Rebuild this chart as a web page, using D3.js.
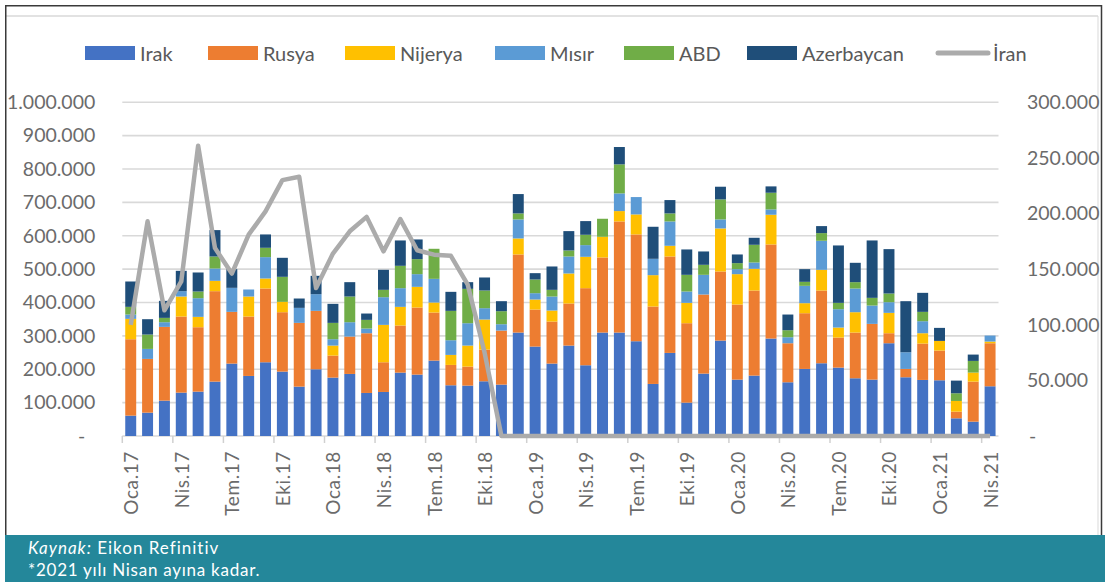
<!DOCTYPE html>
<html>
<head>
<meta charset="utf-8">
<script src="https://cdn.jsdelivr.net/npm/d3@7"></script>
<style>
  html, body { margin: 0; padding: 0; background: #fff; }
  svg { display: block; }
  text { font-family: Lato, "Open Sans", sans-serif; }
</style>
</head>
<body>
<svg id="chart" width="1105" height="582"></svg>
<script>
// ---- DATA (values in thousands of barrels) ----
const months = [
  "Oca.17","Şub.17","Mar.17","Nis.17","May.17","Haz.17","Tem.17","Ağu.17","Eyl.17","Eki.17","Kas.17","Ara.17",
  "Oca.18","Şub.18","Mar.18","Nis.18","May.18","Haz.18","Tem.18","Ağu.18","Eyl.18","Eki.18","Kas.18","Ara.18",
  "Oca.19","Şub.19","Mar.19","Nis.19","May.19","Haz.19","Tem.19","Ağu.19","Eyl.19","Eki.19","Kas.19","Ara.19",
  "Oca.20","Şub.20","Mar.20","Nis.20","May.20","Haz.20","Tem.20","Ağu.20","Eyl.20","Eki.20","Kas.20","Ara.20",
  "Oca.21","Şub.21","Mar.21","Nis.21"
];
const seriesNames = ["Irak","Rusya","Nijerya","Mısır","ABD","Azerbaycan"];
const irak = [61,70,106,130,133,163,217,180,221,193,148,200, 175,186,129,132,190,184,226,152,151,164,154,310,
              268,217,271,212,310,310,284,156,249,100,187,286, 169,181,292,161,201,218,205,173,169,278,176,168, 167,53,43,149];
const rusya = [229,161,221,228,193,271,155,178,221,178,191,175, 66,112,179,89,141,201,144,61,57,95,162,234,
               111,126,126,231,225,333,320,232,289,238,237,207, 225,255,282,117,167,218,90,137,167,30,25,109, 89,20,120,129];
const nijerya = [61,0,0,60,31,31,0,60,30,31,0,0, 30,0,0,112,56,62,30,30,63,90,0,48,
                 30,33,90,94,62,31,60,94,32,61,0,129, 91,65,89,0,30,62,30,61,0,61,0,31, 29,32,27,5];
const misir = [13,30,14,16,56,37,72,21,64,0,45,50, 19,43,14,83,56,38,71,44,67,34,19,57,
               19,42,51,35,0,53,52,49,73,34,59,27, 15,19,16,18,52,87,55,71,55,32,50,36, 0,0,0,18];
const abd = [23,43,13,0,20,36,0,0,28,75,0,0, 49,77,26,22,67,45,90,88,103,53,39,18,
             41,20,18,31,54,87,0,0,24,50,30,60, 18,53,50,21,12,23,19,19,23,26,0,28, 0,23,35,0];
const azerbaycan = [76,46,51,61,57,79,56,0,40,57,28,55, 57,43,19,60,76,59,0,57,20,39,30,58,
                    19,70,58,41,0,52,0,96,40,76,40,38, 26,21,19,47,38,21,172,58,172,133,153,57, 39,38,19,0];
const iran = [100,193,113,139,261,169,146,181,202,230,233,133, 164,184,197,166,195,167,163,162,136,75,0,0,
              0,0,0,0,0,0,0,0,0,0,0,0, 0,0,0,0,0,0,0,0,0,0,0,0, 0,0,0,0];
const leftTicks = [0,100,200,300,400,500,600,700,800,900,1000];
const rightTicks = [0,50,100,150,200,250,300];
const xTickLabels = months.filter((m, i) => i % 3 === 0);
const colors = ["#4472c4","#ed7d31","#ffc000","#5b9bd5","#70ad47","#1f4e79"];
const iranColor = "#ababab";

// ---- LAYOUT ----
const svg = d3.select("#chart");
const plot = { left: 122.3, right: 998.5, top: 102.3, bottom: 436 };

const x = d3.scaleBand().domain(months).range([plot.left, plot.right])
  .paddingInner(0.35).paddingOuter(0.175);
const y = d3.scaleLinear().domain([0, 1000]).range([plot.bottom, plot.top]);
const y2 = d3.scaleLinear().domain([0, 300]).range([plot.bottom, plot.top]);

const fmt = v => v === 0 ? "-" : d3.format(",")(v * 1000).replace(/,/g, ".");

// frame
svg.append("rect").attr("x", 5).attr("y", 535).attr("width", 1100).attr("height", 47).attr("fill", "#24879a");
svg.append("line").attr("x1", 6).attr("x2", 1098).attr("y1", 16).attr("y2", 16).attr("stroke", "#d9d9d9").attr("stroke-width", 1.5);
svg.append("line").attr("x1", 1098).attr("x2", 1098).attr("y1", 16).attr("y2", 535).attr("stroke", "#d9d9d9").attr("stroke-width", 1);
svg.append("path").attr("d", "M5.75,535V5.75H1101.5V535").attr("fill", "none").attr("stroke", "#3a3a3a").attr("stroke-width", 1.5);

// gridlines
svg.append("g").selectAll("line").data(leftTicks.filter(d => d > 0)).join("line")
  .attr("x1", plot.left).attr("x2", plot.right)
  .attr("y1", d => y(d)).attr("y2", d => y(d))
  .attr("stroke", "#d9d9d9").attr("stroke-width", 1.6);

// left axis
const gL = svg.append("g").attr("transform", `translate(${plot.left},0)`)
  .call(d3.axisLeft(y).tickValues(leftTicks).tickFormat(fmt).tickSize(0).tickPadding(27));
gL.select(".domain").remove();
gL.selectAll("text").attr("font-size", 19.5).attr("fill", "#6b6b6b")
  .attr("font-family", "Lato, 'Open Sans', sans-serif")
  .attr("dx", d => d === 0 ? -10 : 0);

// right axis
const gR = svg.append("g").attr("transform", `translate(${plot.right},0)`)
  .call(d3.axisRight(y2).tickValues(rightTicks).tickFormat(fmt).tickSize(0).tickPadding(28.5));
gR.select(".domain").remove();
gR.selectAll("text").attr("font-size", 19.5).attr("fill", "#6b6b6b")
  .attr("font-family", "Lato, 'Open Sans', sans-serif")
  .attr("dx", d => d === 0 ? 2 : 0);

// x axis baseline + ticks
svg.append("line").attr("x1", plot.left).attr("x2", plot.right).attr("y1", plot.bottom).attr("y2", plot.bottom)
  .attr("stroke", "#d9d9d9").attr("stroke-width", 1.5);
const step = x.step();
svg.append("g").selectAll("line").data(months.filter((m, i) => i % 3 === 0)).join("line")
  .attr("x1", d => x(d) - step * 0.175).attr("x2", d => x(d) - step * 0.175)
  .attr("y1", plot.bottom).attr("y2", plot.bottom + 7)
  .attr("stroke", "#d0d0d0").attr("stroke-width", 1.5);
svg.append("g").selectAll("text").data(xTickLabels).join("text")
  .attr("transform", d => `translate(${x(d) + x.bandwidth() / 2},${plot.bottom + 15}) rotate(-90)`)
  .attr("text-anchor", "end").attr("dominant-baseline", "central")
  .attr("font-size", 19).attr("letter-spacing", 0.6).attr("fill", "#6b6b6b")
  .text(d => d);

// stacked bars
const table = months.map((m, i) => ({
  month: m, Irak: irak[i], Rusya: rusya[i], Nijerya: nijerya[i],
  "Mısır": misir[i], ABD: abd[i], Azerbaycan: azerbaycan[i]
}));
const stacked = d3.stack().keys(seriesNames)(table);
svg.append("g").selectAll("g").data(stacked).join("g")
  .attr("fill", (d, i) => colors[i])
  .selectAll("rect").data(d => d).join("rect")
  .attr("x", d => x(d.data.month))
  .attr("width", x.bandwidth())
  .attr("y", d => y(d[1]))
  .attr("height", d => y(d[0]) - y(d[1]));

// Iran line
const line = d3.line().x((d, i) => x(months[i]) + x.bandwidth() / 2).y(d => y2(d));
svg.append("path").datum(iran).attr("d", line)
  .attr("fill", "none").attr("stroke", iranColor).attr("stroke-width", 4.5)
  .attr("stroke-linejoin", "round");

// legend
const legendItems = [
  { name: "Irak", x: 85 }, { name: "Rusya", x: 208 }, { name: "Nijerya", x: 345 },
  { name: "Mısır", x: 495 }, { name: "ABD", x: 624 }, { name: "Azerbaycan", x: 747 }
];
const lg = svg.append("g");
legendItems.forEach((it, i) => {
  lg.append("rect").attr("x", it.x).attr("y", 46).attr("width", 50).attr("height", 14).attr("fill", colors[i]);
  lg.append("text").attr("x", it.x + 55).attr("y", 53).attr("dominant-baseline", "central")
    .attr("font-size", 20).attr("fill", "#595959").text(it.name);
});
lg.append("line").attr("x1", 938).attr("x2", 988).attr("y1", 53).attr("y2", 53)
  .attr("stroke", iranColor).attr("stroke-width", 5).attr("stroke-linecap", "round");
lg.append("text").attr("x", 993).attr("y", 53).attr("dominant-baseline", "central")
  .attr("font-size", 20).attr("fill", "#595959").text("İran");

// footer
const f1 = svg.append("text").attr("x", 28).attr("y", 554).attr("fill", "#fff").attr("font-size", 17).attr("letter-spacing", 1.0);
f1.append("tspan").attr("font-style", "italic").text("Kaynak:");
f1.append("tspan").text(" Eikon Refinitiv");
svg.append("text").attr("x", 28).attr("y", 576).attr("fill", "#fff").attr("font-size", 17).attr("letter-spacing", 0.75)
  .text("*2021 yılı Nisan ayına kadar.");
</script>
</body>
</html>
